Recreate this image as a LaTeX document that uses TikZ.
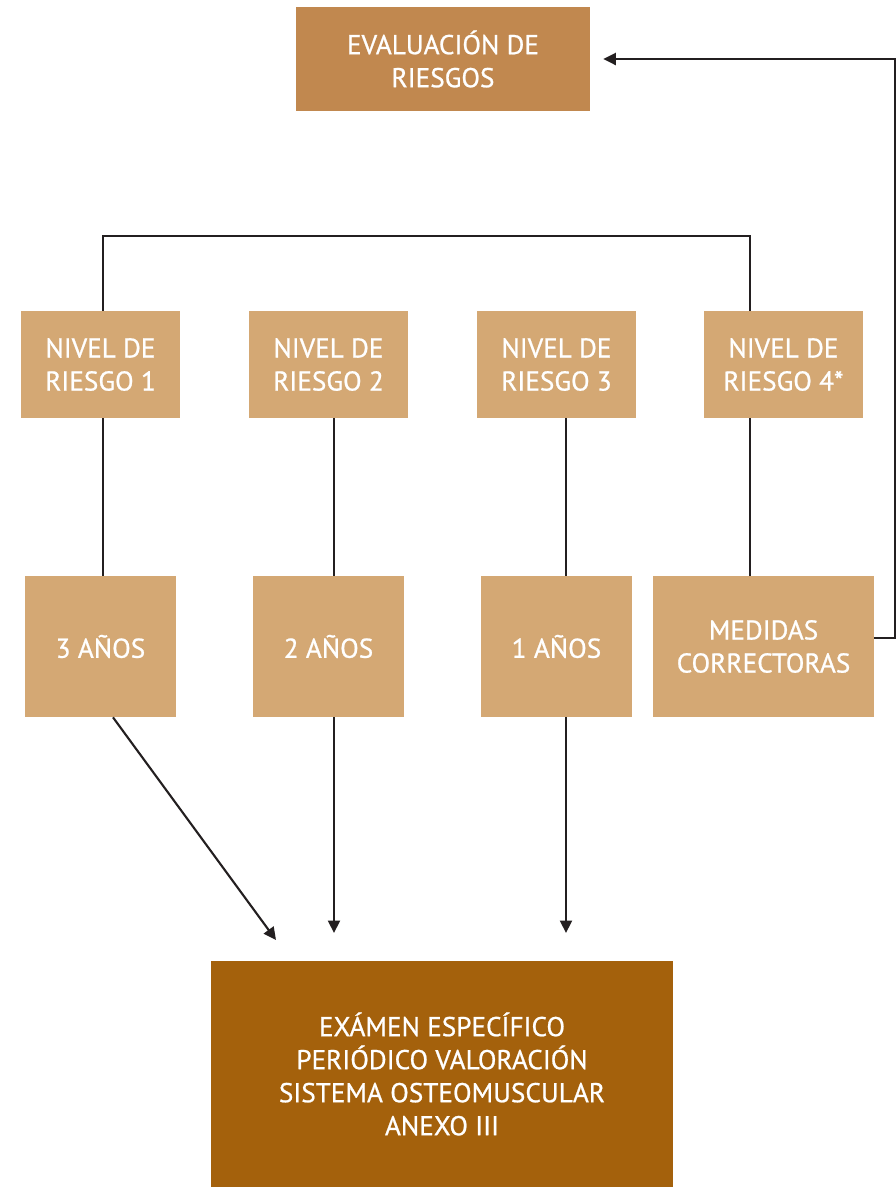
\documentclass[tikz,border=0pt]{standalone}
\usepackage{fontspec}
\setmainfont{PT Sans}
\newfontfamily\boxfont{PT Sans}[FakeBold=0.8]
\usepackage{xcolor}
\usetikzlibrary{arrows.meta,calc,positioning}
\definecolor{evalcol}{HTML}{C1884F}
\definecolor{levelcol}{HTML}{D4A874}
\definecolor{examcol}{HTML}{A4610C}
\definecolor{linecol}{HTML}{231F20}

\begin{document}
\begin{tikzpicture}[x=0.02cm,y=-0.02cm,
  box/.style={inner sep=0pt,align=center,text=white,font=\boxfont\fontsize{15.5}{18.8}\selectfont},
  evalbox/.style={box,fill=evalcol,minimum width=5.88cm,minimum height=2.08cm},
  levelbox/.style={box,fill=levelcol,minimum width=3.18cm,minimum height=2.14cm},
  yearbox/.style={box,fill=levelcol,minimum width=3.02cm,minimum height=2.82cm},
  exambox/.style={box,fill=examcol,minimum width=9.24cm,minimum height=4.52cm},
  link/.style={draw=linecol,line width=1.2pt},
  arr/.style={link,-{Triangle[length=0.25cm,width=0.24cm]}}]
\useasboundingbox (0,0) rectangle (896,1188);
% boxes
\node[evalbox] (ev) at (443,59) {EVALUACIÓN DE\\RIESGOS};
\node[levelbox] (n1) at (100.5,364.5) {NIVEL DE\\RIESGO 1};
\node[levelbox] (n2) at (328.5,364.5) {NIVEL DE\\RIESGO 2};
\node[levelbox] (n3) at (556.5,364.5) {NIVEL DE\\RIESGO 3};
\node[levelbox] (n4) at (783.5,364.5) {NIVEL DE\\RIESGO 4*};
\node[yearbox] (y1) at (100.5,646.5) {3 AÑOS};
\node[yearbox] (y2) at (328.5,646.5) {2 AÑOS};
\node[yearbox] (y3) at (556.5,646.5) {1 AÑOS};
\node[yearbox,minimum width=4.42cm] (m4) at (763.5,646.5) {MEDIDAS\\CORRECTORAS};
\node[exambox] (ex) at (442,1074) {EXÁMEN ESPECÍFICO\\PERIÓDICO VALORACIÓN\\SISTEMA OSTEOMUSCULAR\\ANEXO III};
% columns of the connectors
\coordinate (k0) at (113,0);
\coordinate (k1) at (103,0);
\coordinate (k2) at (334,0);
\coordinate (k3) at (566,0);
\coordinate (k4) at (750,0);
\coordinate (t1) at (276,940);
\coordinate (t2) at (334,933);
\coordinate (t3) at (566,933);
% connectors
\draw[link] (n1.north -| k1) -- ++(0,-75) -| (n4.north -| k4);
\draw[link] (n1.south -| k1) -- (y1.north -| k1);
\draw[link] (n2.south -| k2) -- (y2.north -| k2);
\draw[link] (n3.south -| k3) -- (y3.north -| k3);
\draw[link] (n4.south -| k4) -- (m4.north -| k4);
\draw[arr] (y1.south -| k0) -- (t1);
\draw[arr] (y2.south -| k2) -- (t2);
\draw[arr] (y3.south -| k3) -- (t3);
\draw[arr] ([yshift=0.17cm]m4.east) -- ++(21,0) |- ([xshift=0.26cm]ev.east);
\end{tikzpicture}
\end{document}
